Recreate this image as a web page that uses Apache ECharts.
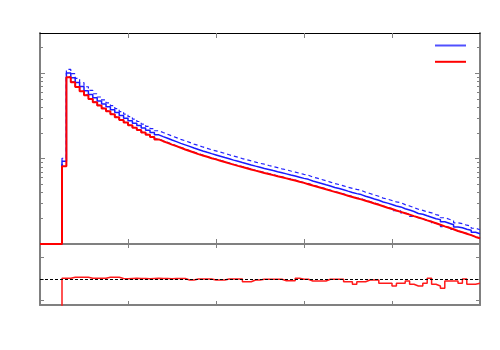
<!DOCTYPE html>
<html lang="en">
<head>
    <meta charset="UTF-8">
    <title>Histogram with ratio</title>
    <script src="https://cdn.jsdelivr.net/npm/echarts@6/dist/echarts.min.js"></script>
    <style>html, body { margin: 0; padding: 0; background: #fff; }</style>
</head>
<body>
<div id="container" style="width: 500px; height: 350px"></div>

<script type="text/javascript">
    // 100 bins, x runs 0..100 (ticks every 20 bins)
    var xTicks = [20, 40, 60, 80];
    var yMajor = [10, 100];
    var yMinor = [2, 3, 4, 5, 6, 7, 8, 9, 20, 30, 40, 50, 60, 70, 80, 90, 200];
    var yTop = 296;
    var ratioTicks = [0.8, 1.0, 1.2];

    var blueNom = [0, 0, 0, 0, 0, 9.32, 100.8, 88.6, 78.1, 69.7,
        62.4, 56.5, 51.6, 47.3, 43.7, 40.4, 37.4, 34.6, 32.0, 29.8,
        27.8, 26.0, 24.4, 22.8, 21.5, 20.2, 19.0, 18.1, 17.3, 16.5,
        15.8, 15.1, 14.5, 13.9, 13.3, 12.8, 12.3, 11.85, 11.44, 11.05,
        10.67, 10.3, 9.95, 9.6, 9.3, 9.0, 8.72, 8.44, 8.17, 7.93,
        7.68, 7.46, 7.24, 7.03, 6.83, 6.63, 6.43, 6.25, 6.06, 5.87,
        5.72, 5.47, 5.3, 5.12, 4.94, 4.77, 4.58, 4.46, 4.31, 4.16,
        4.02, 3.89, 3.79, 3.63, 3.5, 3.37, 3.25, 3.1, 3.01, 2.9,
        2.79, 2.72, 2.59, 2.5, 2.4, 2.28, 2.23, 2.14, 2.06, 1.98,
        1.93, 1.82, 1.75, 1.68, 1.58, 1.55, 1.49, 1.45, 1.37, 1.32];

    var blueUp = [0, 0, 0, 0, 0, 10.1, 110.8, 98.7, 87.0, 77.6,
        69.5, 62.9, 57.5, 52.7, 48.7, 45.0, 41.7, 38.5, 35.6, 33.2,
        31.0, 29.0, 27.2, 25.4, 23.9, 22.5, 21.2, 20.2, 19.3, 18.4,
        17.6, 16.8, 16.2, 15.5, 14.8, 14.3, 13.7, 13.2, 12.7, 12.3,
        11.9, 11.5, 11.1, 10.7, 10.4, 10.0, 9.7, 9.4, 9.1, 8.8,
        8.6, 8.3, 8.07, 7.83, 7.6, 7.39, 7.16, 6.96, 6.75, 6.54,
        6.4, 6.09, 5.9, 5.7, 5.5, 5.31, 5.1, 4.97, 4.8, 4.63,
        4.48, 4.36, 4.25, 4.04, 3.9, 3.75, 3.62, 3.45, 3.35, 3.23,
        3.11, 3.05, 2.89, 2.79, 2.67, 2.55, 2.48, 2.38, 2.32, 2.21,
        2.15, 2.03, 1.95, 1.87, 1.77, 1.73, 1.66, 1.62, 1.53, 1.47];

    var blueDown = [0, 0, 0, 0, 0, 8.4, 91.0, 79.3, 69.9, 62.4,
        55.8, 50.6, 46.2, 42.3, 39.1, 36.2, 33.5, 31.0, 28.6, 26.7,
        24.9, 23.3, 21.8, 20.4, 19.2, 18.1, 17.0, 16.2, 15.5, 14.8,
        14.1, 13.5, 13.0, 12.4, 11.9, 11.5, 11.0, 10.6, 10.2, 9.9,
        9.55, 9.2, 8.9, 8.6, 8.3, 8.05, 7.8, 7.55, 7.3, 7.1,
        6.87, 6.68, 6.48, 6.29, 6.11, 5.93, 5.75, 5.59, 5.42, 5.25,
        5.1, 4.9, 4.74, 4.58, 4.42, 4.27, 4.1, 3.99, 3.86, 3.72,
        3.6, 3.48, 3.4, 3.25, 3.13, 3.02, 2.91, 2.78, 2.69, 2.6,
        2.45, 2.44, 2.3, 2.24, 2.1, 2.04, 1.98, 1.88, 1.84, 1.74,
        1.72, 1.6, 1.57, 1.48, 1.42, 1.37, 1.33, 1.27, 1.22, 1.16];

    var redNom = [0, 0, 0, 0, 0, 8.15, 90.0, 78.4, 69.1, 61.7,
        55.2, 50.0, 45.7, 41.9, 38.7, 35.8, 33.1, 30.6, 28.3, 26.4,
        24.6, 23.0, 21.6, 20.2, 19.0, 17.9, 16.8, 16.0, 15.3, 14.6,
        14.0, 13.4, 12.8, 12.3, 11.8, 11.3, 10.9, 10.5, 10.1, 9.8,
        9.44, 9.12, 8.8, 8.5, 8.23, 7.97, 7.72, 7.47, 7.23, 7.02,
        6.8, 6.6, 6.41, 6.22, 6.05, 5.87, 5.69, 5.53, 5.36, 5.2,
        5.02, 4.84, 4.69, 4.53, 4.37, 4.22, 4.08, 3.95, 3.81, 3.68,
        3.56, 3.44, 3.33, 3.21, 3.1, 2.98, 2.88, 2.77, 2.66, 2.57,
        2.47, 2.38, 2.29, 2.21, 2.12, 2.04, 1.97, 1.89, 1.82, 1.75,
        1.68, 1.61, 1.55, 1.49, 1.42, 1.37, 1.32, 1.27, 1.21, 1.17];

    var ratio = [0, 0, 0, 0, 0, 1.007, 1.007, 1.016, 1.016, 1.016,
        1.016, 1.007, 1.007, 1.007, 1.007, 1.016, 1.016, 1.016, 1.005, 1.003,
        1.005, 1.006, 1.004, 1.005, 1.003, 1.005, 1.006, 1.004, 1.005, 1.003,
        1.005, 1.004, 1.005, 0.991, 0.991, 1.0, 1.0, 1.0, 1.0, 0.991,
        0.991, 0.991, 1.0, 1.0, 1.0, 1.0, 0.975, 0.975, 0.991, 0.991,
        0.997, 0.997, 0.997, 0.997, 0.997, 0.984, 0.984, 0.984, 1.007, 0.997,
        0.997, 0.981, 0.981, 0.981, 0.981, 0.997, 0.997, 0.997, 0.997, 0.975,
        0.975, 0.951, 0.975, 0.975, 0.991, 0.991, 0.991, 0.96, 0.96, 0.96,
        0.935, 0.96, 0.96, 0.981, 0.951, 0.935, 0.935, 0.96, 1.007, 0.951,
        0.935, 0.913, 0.981, 0.981, 0.981, 0.96, 1.0, 0.951, 0.951, 0.96];

    var axisGray = '#808080';

    function lg(v) {
        return v > 0 ? Math.log10(v) : 0;
    }
    // histogram outline: one point per bin left edge plus the closing edge
    function steps(arr, f) {
        var d = [];
        for (var i = 0; i < arr.length; i++) {
            d.push([i, f(arr[i])]);
        }
        d.push([arr.length, f(arr[arr.length - 1])]);
        return d;
    }
    function same(v) { return v; }

    function xAx(grid, pos, color, width, tickLen) {
        return {
            type: 'value', gridIndex: grid, position: pos, min: 0, max: 100,
            axisLine: {show: true, onZero: false, lineStyle: {color: color, width: width}},
            axisTick: {show: true, inside: true, length: tickLen, customValues: xTicks,
                lineStyle: {color: axisGray, width: 1}},
            axisLabel: {show: false},
            splitLine: {show: false}
        };
    }
    function yAx(grid, pos, min, max, ticks, tickLen, showLine) {
        return {
            type: 'value', gridIndex: grid, position: pos, min: min, max: max,
            axisLine: {show: showLine, onZero: false, lineStyle: {color: axisGray, width: 2}},
            axisTick: {show: true, inside: true, length: tickLen, customValues: ticks,
                lineStyle: {color: axisGray, width: 1}},
            axisLabel: {show: false},
            splitLine: {show: false}
        };
    }

    var majorLog = yMajor.map(lg);
    var minorLog = yMinor.map(lg);
    var topLog = lg(yTop);

    function hist(name, arr, color, width, dash) {
        return {
            name: name, type: 'line', xAxisIndex: 0, yAxisIndex: 0,
            step: 'end', symbol: 'none', showSymbol: false,
            lineStyle: {color: color, width: width, type: dash},
            itemStyle: {color: color},
            data: steps(arr, lg)
        };
    }

    var dom = document.getElementById('container');
    var myChart = echarts.init(dom, null, {renderer: 'canvas'});

    var option = {
        animation: false,
        backgroundColor: '#fff',
        grid: [
            {left: 40, right: 20, top: 33, height: 211},
            {left: 40, right: 20, top: 244, height: 61}
        ],
        legend: {
            orient: 'vertical', left: 435, top: 44.5, padding: 0,
            itemWidth: 31, itemHeight: 2, itemGap: 14.3, icon: 'rect',
            data: [
                {name: 'nominal', itemStyle: {color: '#5050ff'}},
                {name: 'alternative', itemStyle: {color: '#ff0000'}}
            ],
            formatter: function () { return ''; },
            textStyle: {fontSize: 12}
        },
        xAxis: [
            xAx(0, 'bottom', axisGray, 2, 5),
            xAx(0, 'top', '#000', 1, 5),
            xAx(1, 'bottom', axisGray, 2, 4),
            xAx(1, 'top', axisGray, 2, 4)
        ],
        yAxis: [
            yAx(0, 'left', 0, topLog, majorLog, 5, true),
            yAx(0, 'left', 0, topLog, minorLog, 3, false),
            yAx(0, 'right', 0, topLog, majorLog, 5, true),
            yAx(0, 'right', 0, topLog, minorLog, 3, false),
            yAx(1, 'left', 0.758, 1.3256, ratioTicks, 4, true),
            yAx(1, 'right', 0.758, 1.3256, ratioTicks, 4, true)
        ],
        series: [
            hist('up', blueUp, '#2222ff', 1.2, [4, 3]),
            hist('down', blueDown, '#2222ff', 1.2, [4, 3]),
            hist('nominal', blueNom, '#1a1aff', 1.5, 'solid'),
            hist('alternative', redNom, '#ff0000', 2, 'solid'),
            {
                name: 'ratio', type: 'line', xAxisIndex: 2, yAxisIndex: 4,
                step: 'end', symbol: 'none', showSymbol: false,
                lineStyle: {color: '#ff1a1a', width: 1.5},
                data: steps(ratio, same),
                markLine: {
                    silent: true, symbol: 'none', animation: false,
                    label: {show: false},
                    lineStyle: {color: '#000', width: 1, type: [3, 2]},
                    data: [{yAxis: 1}]
                }
            }
        ]
    };

    myChart.setOption(option);
    window.addEventListener('resize', myChart.resize);
</script>
</body>
</html>
